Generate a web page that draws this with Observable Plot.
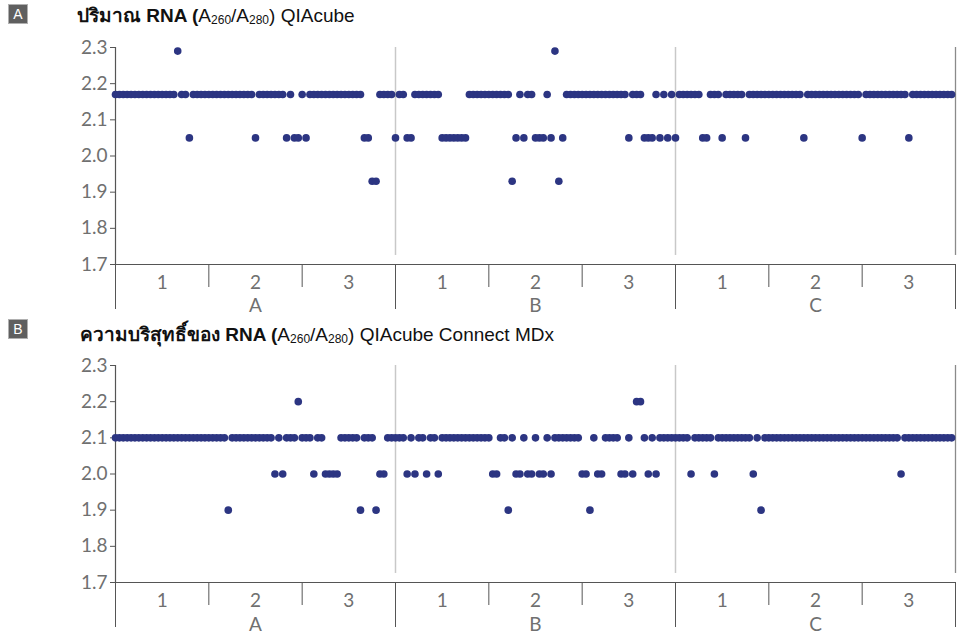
<!DOCTYPE html>
<html><head><meta charset="utf-8">
<script src="https://cdn.jsdelivr.net/npm/d3@7"></script>
<script src="https://cdn.jsdelivr.net/npm/@observablehq/plot@0.6"></script>
<style>
body{margin:0;background:#fff;width:965px;height:636px;position:relative;overflow:hidden;font-family:"Liberation Sans",Arial,sans-serif}
.badge{position:absolute;left:9px;width:18px;height:18px;background:#5f5f5f;color:#fff;font:14px "Liberation Sans",sans-serif;text-align:center;line-height:18px;outline:1px solid #b0b0b0}
.title{position:absolute;font-size:19px;line-height:22px;color:#111;white-space:nowrap}
.title b{font-weight:bold}
.title sub{font-size:12px;vertical-align:-2px;line-height:0}
.plot{position:absolute;left:0}
</style></head>
<body>
<div class="badge" style="top:5px">A</div>
<div class="title" style="left:77px;top:5px"><b>ปริมาณ RNA (</b>A<sub>260</sub>/A<sub>280</sub>) QIAcube</div>
<div id="pa" class="plot" style="top:30px"></div>
<div class="badge" style="top:320px">B</div>
<div class="title" style="left:80px;top:324px"><b>ความบริสุทธิ์ของ RNA (</b>A<sub>260</sub>/A<sub>280</sub>) QIAcube Connect MDx</div>
<div id="pb" class="plot" style="top:348px"></div>
<script>
const groups = ["A", "B", "C"];
const subgroupLabels = ["1", "2", "3"];
const yTicks = [1.7, 1.8, 1.9, 2.0, 2.1, 2.2, 2.3];

// Panel A: QIAcube, 24 samples per run (A1..C3)
const qcA1 = [2.17,2.17,2.17,2.17,2.17,2.17,2.17,2.17, 2.17,2.17,2.17,2.17,2.17,2.17,2.17,2.17, 2.29,2.17,2.17,2.05,2.17,2.17,2.17,2.17];
const qcA2 = [2.17,2.17,2.17,2.17,2.17,2.17,2.17,2.17, 2.17,2.17,2.17,2.17,2.05,2.17,2.17,2.17, 2.17,2.17,2.17,2.17,2.05,2.17,2.05,2.05];
const qcA3 = [2.17,2.05,2.17,2.17,2.17,2.17,2.17,2.17, 2.17,2.17,2.17,2.17,2.17,2.17,2.17,2.17, 2.05,2.05,1.93,1.93,2.17,2.17,2.17,2.17];
const qcB1 = [2.05,2.17,2.17,2.05,2.05,2.17,2.17,2.17, 2.17,2.17,2.17,2.17,2.05,2.05,2.05,2.05, 2.05,2.05,2.05,2.17,2.17,2.17,2.17,2.17];
const qcB2 = [2.17,2.17,2.17,2.17,2.17,2.17,1.93,2.05, 2.17,2.05,2.17,2.17,2.05,2.05,2.05,2.17, 2.05,2.29,1.93,2.05,2.17,2.17,2.17,2.17];
const qcB3 = [2.17,2.17,2.17,2.17,2.17,2.17,2.17,2.17, 2.17,2.17,2.17,2.17,2.05,2.17,2.17,2.17, 2.05,2.05,2.05,2.17,2.05,2.17,2.05,2.17];
const qcC1 = [2.05,2.17,2.17,2.17,2.17,2.17,2.17,2.05, 2.05,2.17,2.17,2.17,2.05,2.17,2.17,2.17, 2.17,2.17,2.05,2.17,2.17,2.17,2.17,2.17];
const qcC2 = [2.17,2.17,2.17,2.17,2.17,2.17,2.17,2.17, 2.17,2.05,2.17,2.17,2.17,2.17,2.17,2.17, 2.17,2.17,2.17,2.17,2.17,2.17,2.17,2.17];
const qcC3 = [2.05,2.17,2.17,2.17,2.17,2.17,2.17,2.17, 2.17,2.17,2.17,2.17,2.05,2.17,2.17,2.17, 2.17,2.17,2.17,2.17,2.17,2.17,2.17,2.17];

// Panel B: QIAcube Connect MDx
const mdA1 = [2.1,2.1,2.1,2.1,2.1,2.1,2.1,2.1, 2.1,2.1,2.1,2.1,2.1,2.1,2.1,2.1, 2.1,2.1,2.1,2.1,2.1,2.1,2.1,2.1];
const mdA2 = [2.1,2.1,2.1,2.1,2.1,1.9,2.1,2.1, 2.1,2.1,2.1,2.1,2.1,2.1,2.1,2.1, 2.1,2.0,2.1,2.0,2.1,2.1,2.1,2.2];
const mdA3 = [2.1,2.1,2.1,2.0,2.1,2.1,2.0,2.0, 2.0,2.0,2.1,2.1,2.1,2.1,2.1,1.9, 2.1,2.1,2.1,1.9,2.0,2.0,2.1,2.1];
const mdB1 = [2.1,2.1,2.1,2.0,2.1,2.0,2.1,2.1, 2.0,2.1,2.1,2.0,2.1,2.1,2.1,2.1, 2.1,2.1,2.1,2.1,2.1,2.1,2.1,2.1];
const mdB2 = [2.1,2.0,2.0,2.1,2.1,1.9,2.1,2.0, 2.0,2.1,2.0,2.0,2.1,2.0,2.0,2.1, 2.0,2.1,2.1,2.1,2.1,2.1,2.1,2.1];
const mdB3 = [2.0,2.0,1.9,2.1,2.0,2.0,2.1,2.1, 2.1,2.1,2.0,2.0,2.1,2.0,2.2,2.2, 2.1,2.0,2.1,2.0,2.1,2.1,2.1,2.1];
const mdC1 = [2.1,2.1,2.1,2.1,2.0,2.1,2.1,2.1, 2.1,2.1,2.0,2.1,2.1,2.1,2.1,2.1, 2.1,2.1,2.1,2.1,2.0,2.1,1.9,2.1];
const mdC2 = [2.1,2.1,2.1,2.1,2.1,2.1,2.1,2.1, 2.1,2.1,2.1,2.1,2.1,2.1,2.1,2.1, 2.1,2.1,2.1,2.1,2.1,2.1,2.1,2.1];
const mdC3 = [2.1,2.1,2.1,2.1,2.1,2.1,2.1,2.1, 2.1,2.1,2.0,2.1,2.1,2.1,2.1,2.1, 2.1,2.1,2.1,2.1,2.1,2.1,2.1,2.1];

const qcRuns = [qcA1, qcA2, qcA3, qcB1, qcB2, qcB3, qcC1, qcC2, qcC3];
const mdRuns = [mdA1, mdA2, mdA3, mdB1, mdB2, mdB3, mdC1, mdC2, mdC3];

const perRun = 24;
const nRuns = 9;
const total = perRun * nRuns;

function toRows(runs) {
  return runs.flatMap((arr, k) => arr.map((v, j) => ({i: k * perRun + j, v})));
}
const subLabelRows = d3.range(nRuns).map(k => ({c: k * perRun + perRun / 2, label: subgroupLabels[k % 3]}));
const groupLabelRows = groups.map((g, k) => ({c: (k * 3 + 1.5) * perRun, label: g}));
const subTicks = d3.range(nRuns + 1).filter(k => k % 3 !== 0).map(k => k * perRun);
const groupTicks = d3.range(4).map(k => k * 3 * perRun);

function chart(runs, height, marginBottom, groupDy) {
  return Plot.plot({
    width: 965, height,
    marginLeft: 115, marginRight: 10, marginTop: 17, marginBottom,
    x: {domain: [0, total]},
    y: {domain: [1.7, 2.3]},
    style: {fontFamily: "Lato, 'Open Sans', sans-serif", fontSize: "19px", color: "#707070", background: "#fff", overflow: "visible"},
    marks: [
      Plot.ruleX(groupTicks.slice(1, 3), {y1: 2.3, y2: 1.725, stroke: "#c8c8c8", strokeWidth: 1.5}),
      Plot.ruleX(groupTicks.slice(3), {y1: 2.3, y2: 1.725, stroke: "#8a8a8a", strokeWidth: 1.3}),
      Plot.axisY({ticks: yTicks, tickSize: 5, tickPadding: 3, tickFormat: ".1f", label: null, stroke: "#555", fontSize: 19}),
      Plot.ruleX([0], {stroke: "#555", strokeWidth: 1.2}),
      Plot.ruleY([1.7], {stroke: "#555", strokeWidth: 1.2}),
      Plot.axisX({ticks: subTicks, tickSize: 23, tickFormat: () => "", label: null, stroke: "#555"}),
      Plot.axisX({ticks: groupTicks, tickSize: 45, tickFormat: () => "", label: null, stroke: "#555"}),
      Plot.text(subLabelRows, {x: "c", text: "label", frameAnchor: "bottom", dy: 24, fontSize: 19, fill: "#707070"}),
      Plot.text(groupLabelRows, {x: "c", text: "label", frameAnchor: "bottom", dy: groupDy, fontSize: 19, fill: "#707070"}),
      Plot.dot(toRows(runs), {x: "i", y: "v", r: 3.8, fill: "#2c3582", stroke: null})
    ]
  });
}

document.getElementById("pa").appendChild(chart(qcRuns, 290, 56, 47));
document.getElementById("pb").appendChild(chart(mdRuns, 288, 54, 48));
</script>
</body></html>
